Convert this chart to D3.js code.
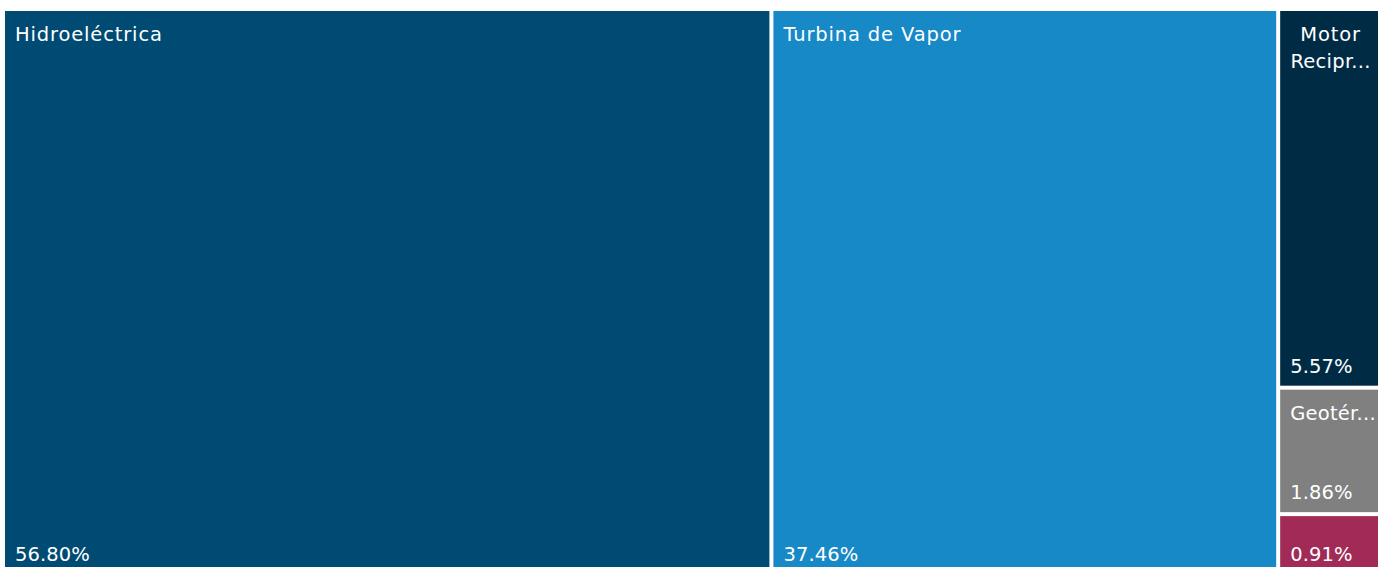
<!DOCTYPE html>
<html>
<head>
<meta charset="utf-8">
<script src="https://cdn.jsdelivr.net/npm/d3@7"></script>
<style>
  html, body { margin: 0; padding: 0; background: #ffffff; overflow: hidden; }
  svg { display: block; }
  text { font-family: "DejaVu Sans", sans-serif; fill: #ffffff; }
</style>
</head>
<body>
<svg id="chart" width="1378" height="567"></svg>
<script>
// Generation share by technology (%)
const categories = ["Hidroeléctrica", "Turbina de Vapor", "Motor Reciprocante", "Geotérmica", "Turbina de Gas"];
const shares = [56.80, 37.46, 5.57, 1.86, 0.91];
const colors = ["#004b73", "#1689c6", "#002b45", "#808080", "#a12a56"];

const svg = d3.select("#chart");
const origin = { x: 5, y: 11 };
const layoutW = 1384, layoutH = 563;
const fontSize = 19.5, nameSpacing = 0.85, cutSpacing = 0.25, valueSpacing = 0.1, pad = 10, lineH = 27;

const root = d3.hierarchy({
  children: categories.map((name, i) => ({ name, value: shares[i], color: colors[i] }))
}).sum(d => d.value || 0).sort((a, b) => b.value - a.value);

d3.treemap()
  .tile(d3.treemapSquarify)
  .size([layoutW, layoutH])
  .paddingInner(4)(root);

const g = svg.append("g").attr("transform", `translate(${origin.x},${origin.y})`);

const cells = g.selectAll("g.cell")
  .data(root.leaves())
  .join("g")
  .attr("class", "cell")
  .attr("transform", d => `translate(${d.x0},${d.y0})`);

cells.append("rect")
  .attr("width", d => d.x1 - d.x0)
  .attr("height", d => d.y1 - d.y0)
  .attr("fill", d => d.data.color);

// text measuring helper
const probe = svg.append("text")
  .attr("font-size", fontSize)
  .style("letter-spacing", nameSpacing + "px")
  .attr("visibility", "hidden");
function measure(s) { probe.text(s); return probe.node().getComputedTextLength(); }

// wrap words onto lines; a word too wide for the cell is cut with "..."
function fitLines(name, maxW) {
  const words = name.split(" ");
  const lines = [];
  let cur = "";
  for (const w of words) {
    const trial = cur ? cur + " " + w : w;
    if (measure(trial) <= maxW) { cur = trial; continue; }
    if (cur) { lines.push(cur); cur = ""; }
    if (measure(w) <= maxW) { cur = w; }
    else {
      let k = w.length;
      while (k > 1 && measure(w.slice(0, k) + "...") > maxW) k--;
      lines.push(w.slice(0, k) + "...");
      return lines;
    }
  }
  if (cur) lines.push(cur);
  return lines;
}

cells.each(function (d) {
  const cell = d3.select(this);
  const w = d.x1 - d.x0, h = d.y1 - d.y0;
  const maxW = w - pad - 5;

  if (h > 90) {
    const lines = fitLines(d.data.name, maxW);
    const multi = lines.length > 1;
    const t = cell.append("text")
      .attr("font-size", fontSize)
      .attr("text-anchor", multi ? "middle" : "start");
    lines.forEach((ln, i) => {
      t.append("tspan")
        .attr("x", multi ? pad + (w - 2 * pad) / 2 - 4 : pad)
        .attr("y", 30 + i * lineH)
        .style("letter-spacing", (ln.endsWith("...") ? cutSpacing : nameSpacing) + "px")
        .text(ln);
    });
  }

  cell.append("text")
    .attr("font-size", fontSize)
    .style("letter-spacing", valueSpacing + "px")
    .attr("x", pad)
    .attr("y", h - 13)
    .text(d3.format(".2f")(d.data.value) + "%");
});

probe.remove();
</script>
</body>
</html>
